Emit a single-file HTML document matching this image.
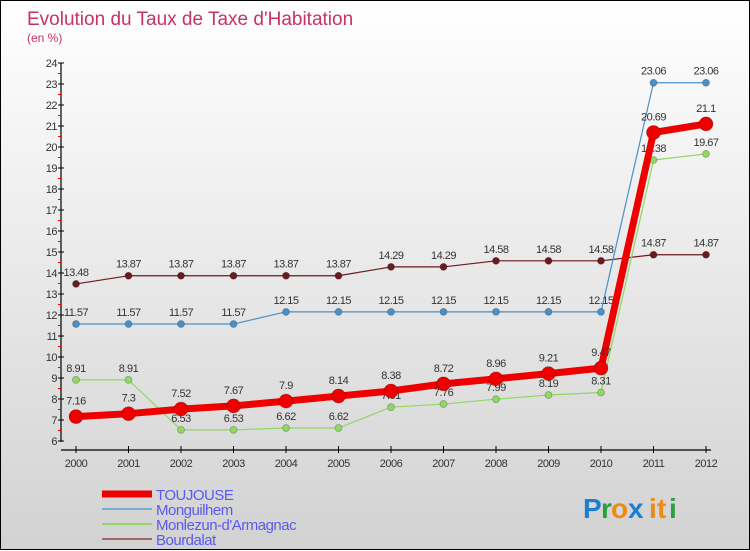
<!DOCTYPE html>
<html><head><meta charset="utf-8">
<style>
html,body{margin:0;padding:0}
body{width:750px;height:550px;overflow:hidden;font-family:"Liberation Sans","DejaVu Sans",sans-serif}
#wrap{position:relative;width:748px;height:548px;border:1px solid #000;background:linear-gradient(#ffffff,#d2d2d2)}
svg{position:absolute;left:0;top:0}
</style></head>
<body>
<div id="wrap">
<svg id="chart" width="750" height="550"></svg>
</div>
<script>
const years=[2000,2001,2002,2003,2004,2005,2006,2007,2008,2009,2010,2011,2012];
const yTicks=[6,7,8,9,10,11,12,13,14,15,16,17,18,19,20,21,22,23,24];
const toujouse=[7.16,7.3,7.52,7.67,7.9,8.14,8.38,8.72,8.96,9.21,9.47,20.69,21.1];
const monguilhem=[11.57,11.57,11.57,11.57,12.15,12.15,12.15,12.15,12.15,12.15,12.15,23.06,23.06];
const monlezun=[8.91,8.91,6.53,6.53,6.62,6.62,7.61,7.76,7.99,8.19,8.31,19.38,19.67];
const bourdalat=[13.48,13.87,13.87,13.87,13.87,13.87,14.29,14.29,14.58,14.58,14.58,14.87,14.87];
const seriesNames=["TOUJOUSE","Monguilhem","Monlezun-d'Armagnac","Bourdalat"];

const NS="http://www.w3.org/2000/svg";
const svg=document.getElementById('chart');
function x(i){return 75+i*52.5;}
function y(v){return 440-(v-6)*21;}
function el(tag,attrs,parent){const e=document.createElementNS(NS,tag);for(const k in attrs)e.setAttribute(k,attrs[k]);(parent||svg).appendChild(e);return e;}
function txt(s,attrs,parent){const t=el('text',attrs,parent);t.textContent=s;return t;}

// title
let t=txt('Evolution du Taux de Taxe d\'Habitation',{x:26,y:24,'font-size':19,fill:'#c8325f'});

t=txt('(en %)',{x:26,y:41,'font-size':12,fill:'#c8325f'});


// axes
const ax=el('g',{});

el('line',{x1:60,y1:62,x2:60,y2:441,stroke:'#000','stroke-width':1.2},ax);
yTicks.forEach(v=>{
  el('line',{x1:57,y1:y(v),x2:63,y2:y(v),stroke:'#000'},ax);
  if(v<24) el('line',{x1:57,y1:y(v)-10.5,x2:60,y2:y(v)-10.5,stroke:'#e00'},ax);
  const lt=txt(String(v),{x:56,y:y(v)+4,'font-size':11,fill:'#333','text-anchor':'end','letter-spacing':'-0.5'},ax);
  
});
const xa=el('g',{});

el('line',{x1:60,y1:449,x2:710,y2:449,stroke:'#000','stroke-width':1.2},xa);
years.forEach((yr,i)=>{
  el('line',{x1:x(i),y1:445,x2:x(i),y2:452,stroke:'#000'},xa);
  const lt=txt(String(yr),{x:x(i),y:466,'font-size':11,fill:'#333','text-anchor':'middle','letter-spacing':'-0.5'},xa);
  
});

function series(data,color,width,r,name,labelOffset){
  const g=el('g',{});
  
  el('polyline',{points:data.map((v,i)=>x(i)+','+y(v)).join(' '),fill:'none',stroke:color,'stroke-width':width,'stroke-linejoin':'round'},g);
  data.forEach((v,i)=>{
    const c=el('circle',{cx:x(i),cy:y(v),r:r,fill:color,stroke:'rgba(0,0,0,0.25)','stroke-width':0.8},g);
    
    const lt=txt(String(v),{x:x(i),y:y(v)-labelOffset,'font-size':11,fill:'#333','text-anchor':'middle','letter-spacing':'-0.5'},g);
    
  });
}
series(bourdalat,'#6b1a1e',1.2,3.5,'series-bourdalat',8);
series(monguilhem,'#4a90c8',1.2,3.5,'series-monguilhem',8);
series(monlezun,'#8fd861',1.2,3.5,'series-monlezun',8);
series(toujouse,'#ee0000',7,7,'series-toujouse',12);

// legend
const colors=['#ee0000','#7aaed0','#8fd861','#a06868'];
const widths=[7,2,2,2];
seriesNames.forEach((n,i)=>{
  const g=el('g',{});
  
  const ly=492+i*15;
  el('line',{x1:101,y1:ly+1,x2:151,y2:ly+1,stroke:colors[i],'stroke-width':widths[i]},g);
  txt(n,{x:155,y:ly+7,'font-size':15,fill:'#5a5af0','letter-spacing':'-0.5'},g);
});

// logo
const lg=el('g',{});

const letters=[['P','#1a7fd0'],['r','#2aa040'],['o','#f08a10'],['x','#1a7fd0'],['i','#f08a10'],['t','#f08a10'],['i','#2aa040']];
const lx=[582,600,610,627,648,656,668];
letters.forEach((l,i)=>{txt(l[0],{x:lx[i],y:517,'font-size':28,'font-weight':'bold',fill:l[1]},lg);});
</script>
</body></html>
